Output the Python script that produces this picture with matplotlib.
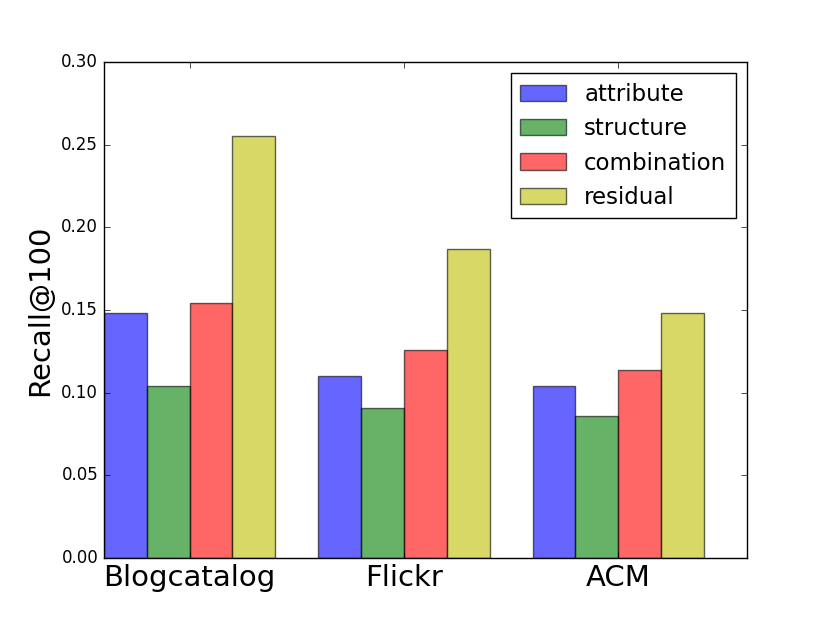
import numpy as np
import matplotlib
matplotlib.use('Agg')
import matplotlib.pyplot as plt

plt.style.use('classic')

datasets = ['Blogcatalog', 'Flickr', 'ACM']
methods = ['attribute', 'structure', 'combination', 'residual']
colors = ['b', 'g', 'r', 'y']
attribute = [0.148, 0.110, 0.104]
structure = [0.104, 0.091, 0.086]
combination = [0.154, 0.126, 0.114]
residual = [0.255, 0.187, 0.148]
scores = [attribute, structure, combination, residual]

width = 0.2
ind = np.arange(len(datasets))

fig = plt.figure(figsize=(8.3, 6.2), dpi=100)
ax = fig.add_subplot(111)
for j in range(len(methods)):
    ax.bar(ind + j*width, scores[j], width, color=colors[j], alpha=0.6,
           label=methods[j], align='edge')

ax.set_xticks(ind + 2*width)
ax.set_xticklabels(datasets, fontsize=21)
ax.set_xlim(0, 3)
ax.set_ylim(0, 0.30)
ax.set_ylabel('Recall@100', fontsize=21)
ax.legend(loc='upper right', fontsize=16.5)

fig.savefig('out.png', dpi=100)
